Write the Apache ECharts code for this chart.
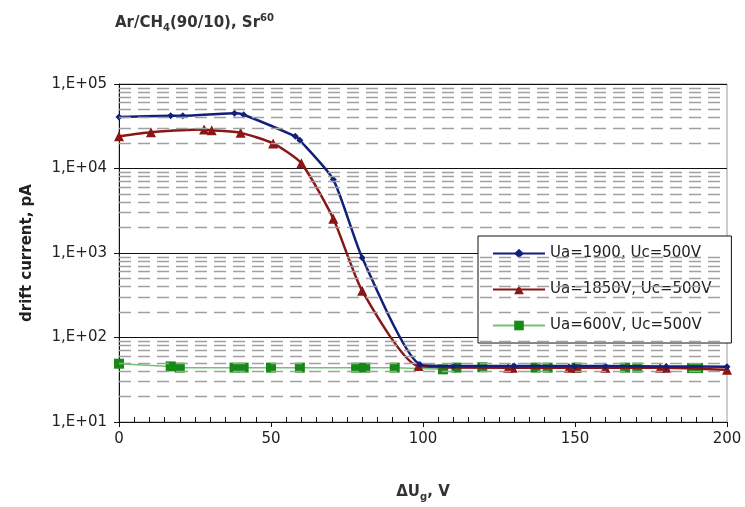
<!DOCTYPE html>
<html>
<head>
    <title>drift current</title>
    <meta http-equiv="Content-Type" content="text/html; charset=utf-8" />
    <script src="https://cdn.jsdelivr.net/npm/echarts@6/dist/echarts.min.js"></script>
    <style>
        html, body { margin: 0; padding: 0; background: #fff; }
    </style>
</head>
<body>
    <div id="div_echart" style="width: 745px; height: 507px;"></div>
    <script>
        // series values
        var seriesNames = ['Ua=1900, Uc=500V', 'Ua=1850V, Uc=500V', 'Ua=600V, Uc=500V'];

        var blueX = [0, 17, 21, 38, 41, 58, 59.5, 70.5, 80, 99, 110, 130, 150, 160, 180, 200];
        var blueY = [40700, 42000, 42000, 45000, 43300, 24000, 21600, 7400, 880, 48, 46, 46, 46, 46, 45.5, 45];

        var redX = [0, 10.5, 28, 30.5, 40, 50.7, 60, 70.5, 80, 98.5, 128, 129.5, 148, 150.5, 160, 178, 180, 200];
        var redY = [24000, 26800, 28900, 28300, 26400, 19800, 11500, 2545, 357, 46, 44, 44, 44, 44, 44, 44, 44, 41.5];

        var greenX = [0, 17, 20, 38, 41, 50, 59.5, 78, 81, 90.7, 106.6, 111, 119.5, 137, 141, 150.5, 166.5, 170.5, 188.5, 190.5];
        var greenY = [49, 45.5, 44, 44, 44, 44, 44, 44, 44, 44, 42, 44, 44.5, 44, 44, 44, 44, 44, 43.5, 43.5];

        // axis ticks
        var xTicks = [0, 50, 100, 150, 200];
        var yTicks = [10, 100, 1000, 10000, 100000];
        var yTickLabels = ['1,E+01', '1,E+02', '1,E+03', '1,E+04', '1,E+05'];
        var minorGrid = [20, 30, 40, 50, 60, 70, 80, 90,
            200, 300, 400, 500, 600, 700, 800, 900,
            2000, 3000, 4000, 5000, 6000, 7000, 8000, 9000,
            20000, 30000, 40000, 50000, 60000, 70000, 80000, 90000];

        function zip(xs, ys) {
            return xs.map(function (x, i) { return [x, ys[i]]; });
        }

        var dom = document.getElementById("div_echart");
        var mychart = echarts.init(dom);
        var font = 'DejaVu Sans';

        var option = {
            animation: false,
            textStyle: { fontFamily: font },
            title: {
                left: 110,
                top: 8,
                text: '{a|Ar/CH}{s|4}{a|(90/10), Sr}{p|60}',
                textStyle: {
                    rich: {
                        a: { fontFamily: font, fontWeight: 'bold', fontSize: 15, color: '#333', lineHeight: 20, verticalAlign: 'middle' },
                        s: { fontFamily: font, fontWeight: 'bold', fontSize: 10, color: '#333', lineHeight: 20, verticalAlign: 'bottom' },
                        p: { fontFamily: font, fontWeight: 'bold', fontSize: 10, color: '#333', lineHeight: 20, verticalAlign: 'top' }
                    }
                }
            },
            legend: {
                orient: 'vertical',
                left: 478,
                top: 236,
                width: 255,
                padding: [10, 20, 10, 14],
                itemGap: 21,
                itemWidth: 52,
                itemHeight: 12,
                backgroundColor: '#fff',
                borderColor: '#111',
                borderWidth: 1,
                data: seriesNames,
                textStyle: { fontFamily: font, fontSize: 15, color: '#222' }
            },
            grid: {
                left: 119,
                right: 18,
                top: 84,
                bottom: 81,
                show: true,
                borderColor: '#9a9a9a',
                borderWidth: 1
            },
            xAxis: [
                {
                    type: 'value',
                    min: xTicks[0],
                    max: xTicks[xTicks.length - 1],
                    interval: 50,
                    axisLine: { show: true, lineStyle: { color: '#111', width: 1 } },
                    axisTick: { show: true, length: 5, lineStyle: { color: '#111' } },
                    axisLabel: { fontFamily: font, fontSize: 15, color: '#222', margin: 10 },
                    splitLine: { show: false },
                    name: '{a|\u0394U}{s|g}{a|, V}',
                    nameLocation: 'middle',
                    nameGap: 60,
                    nameTextStyle: {
                        rich: {
                            a: { fontFamily: font, fontWeight: 'bold', fontSize: 15, color: '#333', lineHeight: 20, verticalAlign: 'middle' },
                            s: { fontFamily: font, fontWeight: 'bold', fontSize: 10, color: '#333', lineHeight: 20, verticalAlign: 'bottom' }
                        }
                    }
                },
                {
                    // second copy of the x scale, only for the small inside ticks
                    type: 'value',
                    position: 'bottom',
                    min: xTicks[0],
                    max: xTicks[xTicks.length - 1],
                    interval: 50,
                    axisLine: { show: false },
                    axisTick: { show: false, inside: true },
                    minorTick: { show: true, splitNumber: 10, length: 5, lineStyle: { color: '#111' } },
                    axisLabel: { show: false },
                    splitLine: { show: false }
                }
            ],
            yAxis: {
                type: 'log',
                logBase: 10,
                min: yTicks[0],
                max: yTicks[yTicks.length - 1],
                axisLine: { show: true, lineStyle: { color: '#111', width: 1 } },
                axisTick: { show: true, length: 5, lineStyle: { color: '#111' } },
                axisLabel: {
                    fontFamily: font, fontSize: 15, color: '#222', margin: 12,
                    formatter: function (v) {
                        var i = yTicks.indexOf(Math.round(v));
                        return i >= 0 ? yTickLabels[i] : '';
                    }
                },
                splitLine: { show: true, lineStyle: { color: '#111', width: 1 } },
                name: 'drift current, pA',
                nameLocation: 'middle',
                nameGap: 84,
                nameTextStyle: { fontFamily: font, fontWeight: 'bold', fontSize: 15, color: '#222' }
            },
            series: [
                {
                    // dashed gridlines at 2..9 of each decade
                    name: 'grid',
                    type: 'line',
                    z: 1,
                    data: [],
                    markLine: {
                        silent: true,
                        symbol: 'none',
                        animation: false,
                        label: { show: false },
                        lineStyle: { type: [12, 7], color: '#a0a0a0', width: 1.3 },
                        data: minorGrid.map(function (v) { return { yAxis: v }; })
                    }
                },
                {
                    name: seriesNames[0],
                    type: 'line',
                    z: 4,
                    smooth: 0.2,
                    symbol: 'diamond',
                    symbolSize: 7,
                    itemStyle: { color: '#13207a' },
                    lineStyle: { color: '#13207a', width: 2.5 },
                    data: zip(blueX, blueY)
                },
                {
                    name: seriesNames[1],
                    type: 'line',
                    z: 3,
                    smooth: 0.2,
                    symbol: 'triangle',
                    symbolSize: 10,
                    itemStyle: { color: '#8a1616' },
                    lineStyle: { color: '#8a1616', width: 2.5 },
                    data: zip(redX, redY)
                },
                {
                    name: seriesNames[2],
                    type: 'line',
                    z: 2,
                    symbol: 'rect',
                    symbolSize: 10,
                    itemStyle: { color: '#168a16' },
                    lineStyle: { color: '#72c472', width: 1.5 },
                    data: zip(greenX, greenY)
                }
            ]
        };

        mychart.setOption(option, true);
    </script>
</body>
</html>
